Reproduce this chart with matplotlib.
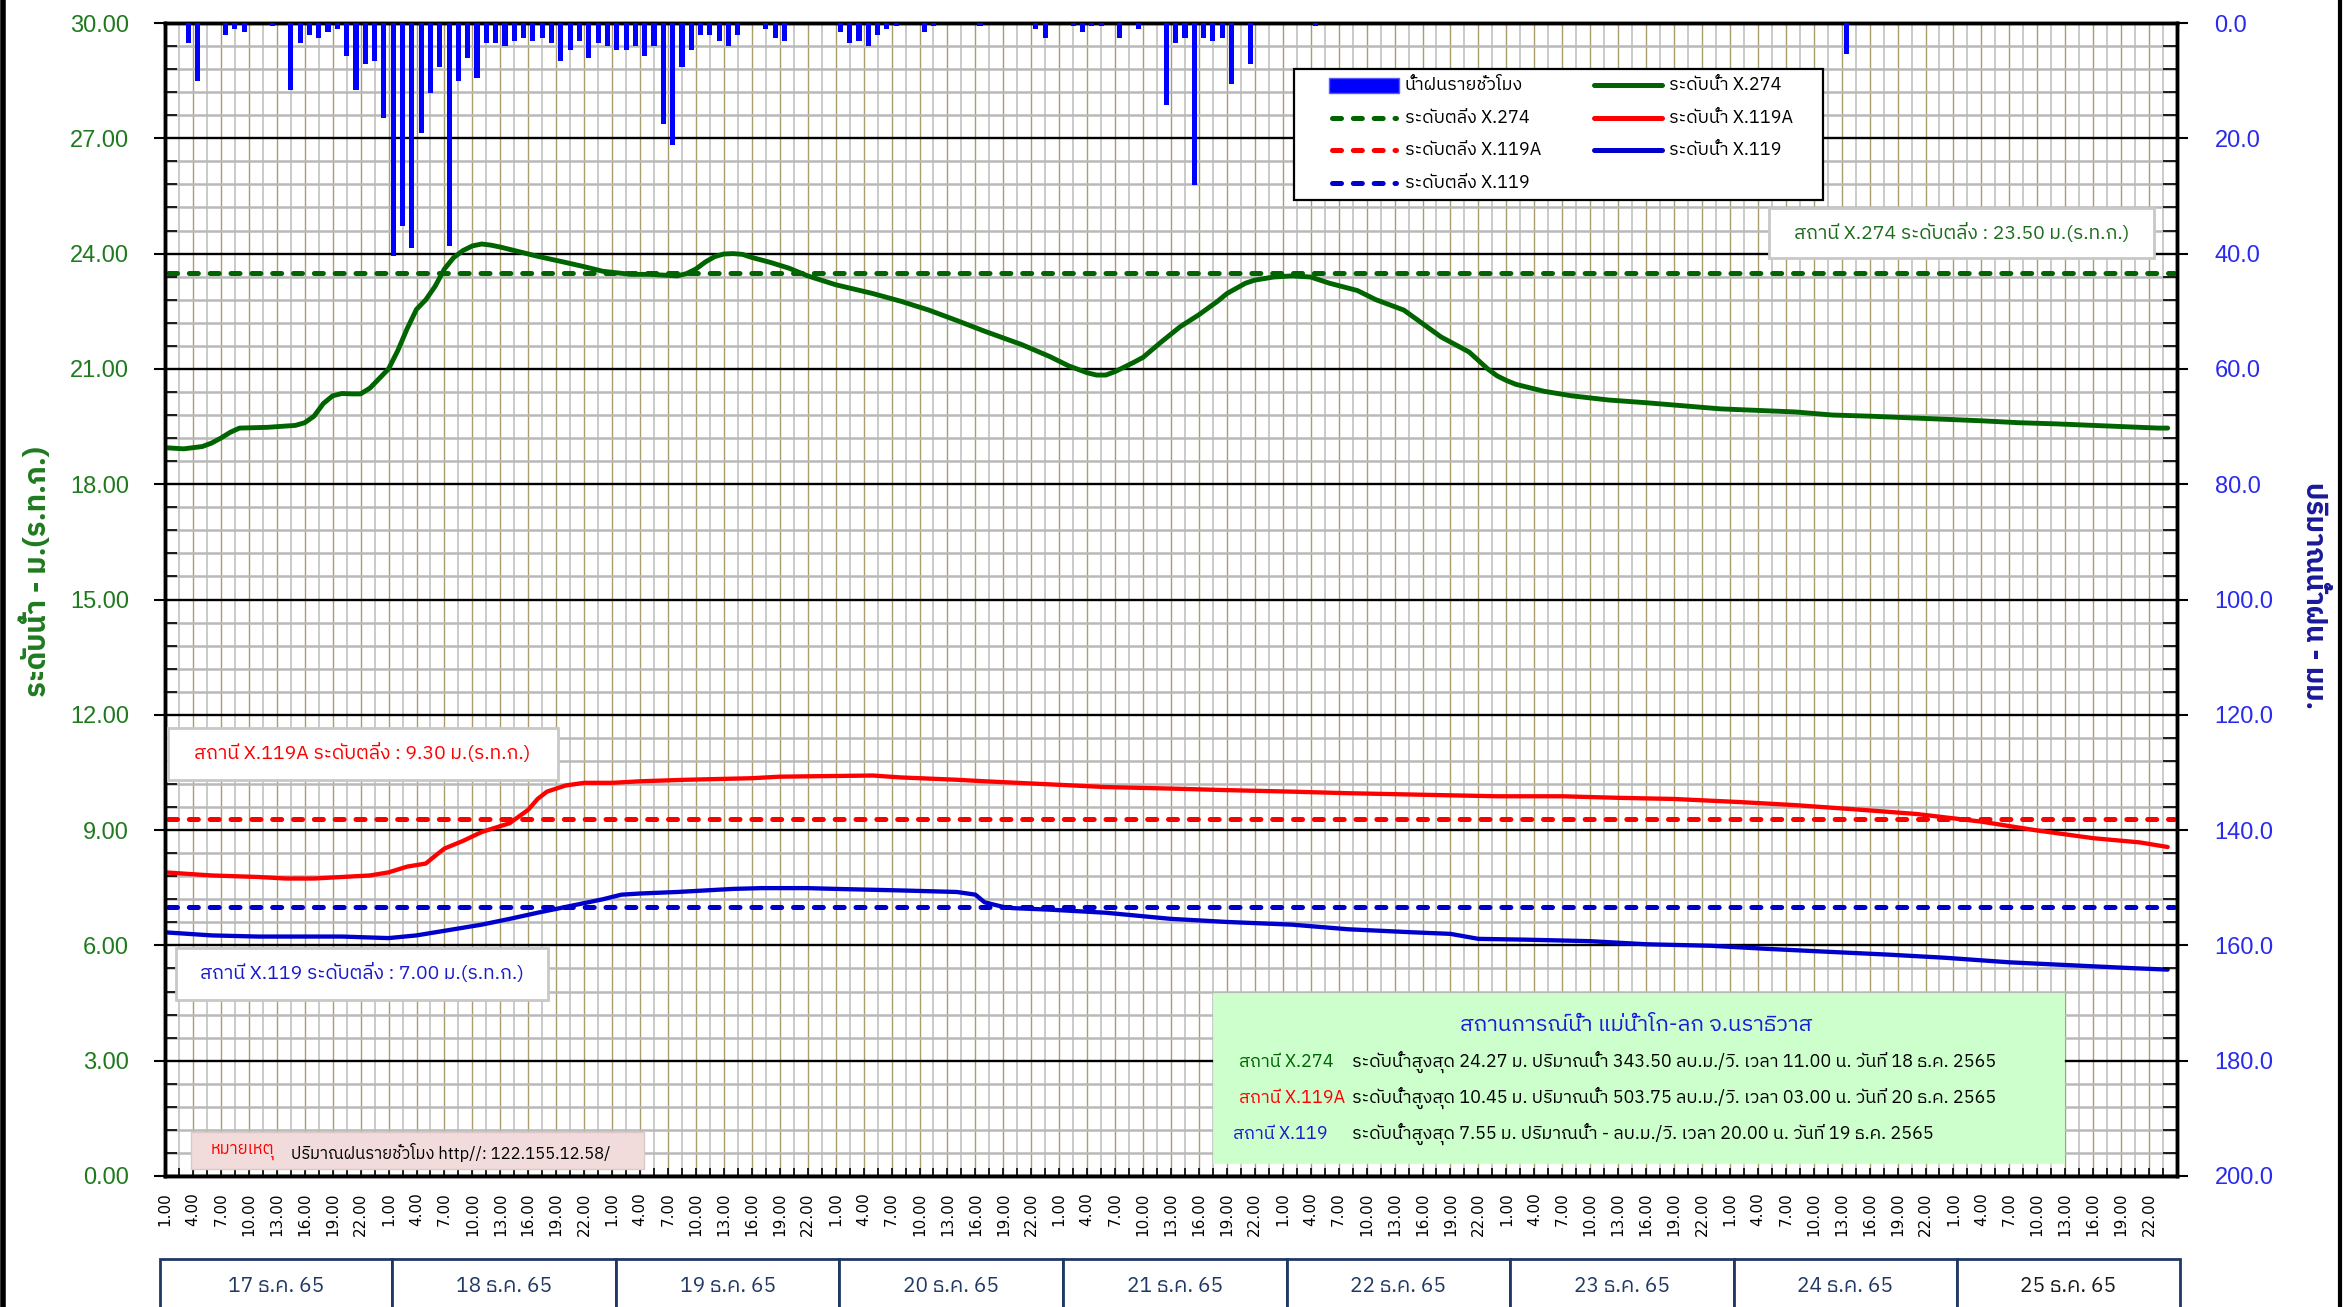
import numpy as np
import matplotlib
matplotlib.use('Agg')
import matplotlib.pyplot as plt
from matplotlib import font_manager as fm
from matplotlib.ft2font import FT2Font
from matplotlib.patches import Rectangle
from matplotlib.lines import Line2D
from matplotlib.ticker import MultipleLocator, FormatStrFormatter
import matplotlib.transforms as mtrans

# ---------------- data ----------------
hour_labels = ['1.00', '4.00', '7.00', '10.00', '13.00', '16.00', '19.00', '22.00']
day_labels = ['17 ธ.ค. 65', '18 ธ.ค. 65', '19 ธ.ค. 65', '20 ธ.ค. 65', '21 ธ.ค. 65',
              '22 ธ.ค. 65', '23 ธ.ค. 65', '24 ธ.ค. 65', '25 ธ.ค. 65']

rain_hour = [2, 3, 6, 7, 8, 11, 13, 14, 15, 16, 17, 18, 19, 20, 21, 22, 23, 24, 25, 26,
             27, 28, 29, 30, 31, 32, 33, 34, 35, 36, 37, 38, 39, 40, 41, 42, 43, 44, 45, 46,
             47, 48, 49, 50, 51, 52, 53, 54, 55, 56, 57, 58, 59, 60, 61, 64, 65, 66,
             72, 73, 74, 75, 76, 77, 78, 81, 82, 87, 93, 94, 97, 98, 99, 100, 102, 104,
             107, 108, 109, 110, 111, 112, 113, 114, 116, 123, 180]
rain_mm = [3.5, 10.0, 2.1, 1.0, 1.6, 0.6, 11.6, 3.5, 2.1, 2.6, 1.6, 1.0, 5.7, 11.6, 7.1, 6.6,
           16.5, 40.5, 35.2, 39.1, 19.1, 12.1, 7.6, 38.6, 10.0, 6.1, 9.6, 3.5, 3.5, 4.0,
           3.1, 2.6, 3.1, 2.6, 3.5, 6.6, 4.6, 3.1, 6.1, 3.5, 4.0, 4.6, 4.6, 4.0, 5.7, 4.0,
           17.6, 21.1, 7.6, 4.6, 2.1, 2.1, 3.1, 4.0, 2.1, 1.0, 2.6, 3.1,
           1.6, 3.5, 3.1, 4.0, 2.1, 1.0, 0.6, 1.6, 0.6, 0.6, 1.0, 2.6, 0.6, 1.6, 0.6, 0.6,
           2.6, 1.0, 14.2, 3.5, 2.6, 28.1, 2.6, 3.1, 2.6, 10.6, 7.1, 0.5, 5.4]

x274_hour = [0, 2, 4, 5, 6, 7, 8, 11, 14, 15, 16, 17, 18, 19, 20, 21, 22, 23, 24, 25, 26,
             27, 28, 29, 30, 31, 32, 33, 34, 35, 36, 38, 40, 43, 45, 47, 50, 52, 55, 56, 57,
             58, 59, 60, 61, 62, 63, 65, 67, 69, 72, 76, 79, 82, 85, 88, 92, 95, 97, 99, 100,
             101, 102, 104, 105, 107, 109, 111, 113, 114, 116, 117, 119, 121, 123, 125, 128,
             130, 133, 135, 137, 140, 142, 143, 144, 145, 148, 151, 155, 159, 163, 167, 171,
             175, 179, 183, 187, 191, 195, 199, 203, 207, 211, 214, 215]
x274_level = [18.95, 18.92, 18.98, 19.07, 19.2, 19.35, 19.46, 19.48, 19.53, 19.6, 19.77, 20.1,
              20.3, 20.36, 20.35, 20.35, 20.5, 20.75, 21.0, 21.48, 22.05, 22.55, 22.8, 23.15,
              23.6, 23.9, 24.08, 24.2, 24.25, 24.22, 24.17, 24.05, 23.93, 23.77, 23.66, 23.54,
              23.46, 23.46, 23.42, 23.48, 23.6, 23.78, 23.92, 23.99, 24.0, 23.98, 23.9, 23.77,
              23.62, 23.42, 23.19, 22.96, 22.76, 22.53, 22.26, 21.98, 21.63, 21.32, 21.08,
              20.9, 20.84, 20.84, 20.93, 21.17, 21.3, 21.71, 22.1, 22.41, 22.76, 22.96, 23.23,
              23.31, 23.39, 23.42, 23.39, 23.23, 23.04, 22.8, 22.53, 22.18, 21.83, 21.44, 21.0,
              20.82, 20.7, 20.6, 20.42, 20.3, 20.19, 20.12, 20.04, 19.96, 19.92, 19.88, 19.8,
              19.77, 19.73, 19.69, 19.65, 19.6, 19.57, 19.53, 19.49, 19.46, 19.46]

x119a_hour = [0, 5, 10, 13, 16, 19, 22, 24, 26, 28, 29, 30, 32, 34, 37, 39, 40, 41, 43, 45,
              48, 51, 56, 63, 66, 76, 79, 85, 88, 95, 101, 108, 114, 121, 127, 135, 143, 150,
              156, 162, 169, 175, 182, 188, 195, 201, 207, 212, 215]
x119a_level = [7.9, 7.82, 7.78, 7.74, 7.74, 7.78, 7.82, 7.9, 8.05, 8.13, 8.33, 8.52, 8.72,
               8.95, 9.18, 9.53, 9.81, 10.0, 10.16, 10.23, 10.23, 10.27, 10.31, 10.35, 10.39,
               10.42, 10.37, 10.31, 10.27, 10.19, 10.12, 10.08, 10.04, 10.0, 9.96, 9.92, 9.88,
               9.88, 9.84, 9.81, 9.73, 9.65, 9.53, 9.42, 9.22, 8.99, 8.79, 8.68, 8.56]

x119_hour = [0, 5, 10, 14, 19, 24, 27, 30, 34, 37, 40, 43, 47, 49, 51, 55, 58, 61, 64, 69,
             72, 79, 85, 87, 88, 90, 91, 95, 101, 108, 114, 121, 127, 134, 138, 141, 146, 153,
             159, 166, 172, 178, 185, 191, 198, 204, 211, 215]
x119_level = [6.34, 6.26, 6.23, 6.23, 6.23, 6.19, 6.26, 6.38, 6.54, 6.69, 6.85, 7.0, 7.2,
              7.32, 7.35, 7.39, 7.43, 7.47, 7.49, 7.49, 7.47, 7.43, 7.39, 7.32, 7.12, 7.0,
              6.97, 6.93, 6.85, 6.69, 6.61, 6.54, 6.42, 6.34, 6.3, 6.17, 6.15, 6.11, 6.03,
              5.99, 5.91, 5.84, 5.76, 5.68, 5.56, 5.49, 5.41, 5.37]

bank_274 = 23.50
bank_119a = 9.30
bank_119 = 7.00

# ---------------- fonts ----------------
def thai_fonts():
    names = []
    for f in fm.fontManager.ttflist:
        try:
            cmap = FT2Font(f.fname).get_charmap()
        except Exception:
            continue
        if 0x0E01 in cmap and 0x0E33 in cmap and f.name not in names:
            names.append(f.name)
    names.sort(key=lambda n: (0 if 'Thai' in n else 1, n))
    return names

TH = thai_fonts()
FAM = TH[:1] + ['Liberation Sans', 'DejaVu Sans']
plt.rcParams['font.family'] = FAM
plt.rcParams['lines.scale_dashes'] = False

W, H = 2346, 1307
def fx(x): return x / W
def fy(y): return 1 - y / H

GREEN = '#006400'
RED = '#ff0000'
BLUE = '#0000cc'
BARBLUE = '#0000ff'

fig = plt.figure(figsize=(W / 100, H / 100), dpi=100)
fig.patch.set_facecolor('white')

L, R, T, B = 165, 2177, 23, 1176
ax = fig.add_axes([fx(L), fy(B), (R - L) / W, (B - T) / H])
ax.set_xlim(0, 216)
ax.set_ylim(0, 30)

# grid
ax.set_axisbelow(True)
ax.set_xticks(np.arange(0, 216, 3))
ax.xaxis.set_minor_locator(MultipleLocator(1.5))
ax.yaxis.set_major_locator(MultipleLocator(3))
ax.yaxis.set_minor_locator(MultipleLocator(0.6))
ax.grid(which='major', axis='x', color='#a99d6e', lw=1.0)
ax.grid(which='minor', axis='x', color='#cacaca', lw=1.4)
ax.grid(which='major', axis='y', color='black', lw=1.7)
ax.grid(which='minor', axis='y', color='#b9b9b9', lw=1.8)

xt_labels = [hour_labels[i % 8] for i in range(72)]
ax.set_xticklabels(xt_labels, rotation=90, fontfamily='DejaVu Sans', fontsize=11)
ax.tick_params(axis='x', which='both', direction='in', length=6, width=1.2, pad=12)
ax.yaxis.set_major_formatter(FormatStrFormatter('%.2f'))
ax.tick_params(axis='y', which='major', direction='out', length=8, width=1.5,
               labelsize=17, labelcolor='#1f7a1f', pad=18)
ax.tick_params(axis='y', which='minor', direction='in', length=8.5, width=1.2)
for lbl in ax.get_yticklabels():
    lbl.set_fontfamily('Liberation Sans')

for s in ax.spines.values():
    s.set_linewidth(2.5)
    s.set_color('black')

# water levels
ax.plot(x274_hour, x274_level, color=GREEN, lw=3.5, solid_capstyle='round',
        solid_joinstyle='round', zorder=4)
ax.plot(x119a_hour, x119a_level, color=RED, lw=3.1, solid_capstyle='round',
        solid_joinstyle='round', zorder=4)
ax.plot(x119_hour, x119_level, color=BLUE, lw=3.1, solid_capstyle='round',
        solid_joinstyle='round', zorder=4)

dash = (0, (6.5, 8.5))
for lev, col in [(bank_274, GREEN), (bank_119a, RED), (bank_119, BLUE)]:
    ax.plot([0.3, 215.7], [lev, lev], color=col, lw=3.6, ls=dash,
            dash_capstyle='round', zorder=4)

# rainfall (inverted right axis)
ax2 = ax.twinx()
ax2.set_ylim(200, 0)
ax2.bar(np.array(rain_hour) + 0.5, rain_mm, width=0.55, color=BARBLUE, zorder=3)
ax2.yaxis.set_major_locator(MultipleLocator(20))
ax2.yaxis.set_minor_locator(MultipleLocator(4))
ax2.yaxis.set_major_formatter(FormatStrFormatter('%.1f'))
ax2.tick_params(axis='y', which='major', direction='out', length=8, width=1.5,
                labelsize=17, labelcolor='#2a2aee', pad=19)
ax2.tick_params(axis='y', which='minor', direction='in', length=10, width=1.2)
for lbl in ax2.get_yticklabels():
    lbl.set_fontfamily('Liberation Sans')
for s in ax2.spines.values():
    s.set_linewidth(2.5)

# axis titles
fig.text(fx(36), fy(572), 'ระดับน้ำ - ม.(ร.ท.ก.)', rotation=90, color='#1f7a1f',
         fontsize=21, fontweight='bold', ha='center', va='center')
fig.text(fx(2313), fy(596), 'ปริมาณน้ำฝน - มม.', rotation=270, color='#1a1a9a',
         fontsize=20, fontweight='bold', ha='center', va='center')

# ---------------- legend (manual) ----------------
fig.add_artist(Rectangle((fx(1294), fy(200)), (1823 - 1294) / W, (200 - 69) / H,
                         transform=fig.transFigure, facecolor='white', edgecolor='black',
                         lw=1.6, zorder=5))
fig.add_artist(Rectangle((fx(1329), fy(93)), 70 / W, 15 / H, transform=fig.transFigure,
                         facecolor=BARBLUE, edgecolor='#5a5aff', lw=1, zorder=6))
rows = [85, 118, 150, 183]
leg_col1 = [('น้ำฝนรายชั่วโมง', None), ('ระดับตลิ่ง X.274', GREEN),
            ('ระดับตลิ่ง X.119A', RED), ('ระดับตลิ่ง X.119', BLUE)]
leg_col2 = [('ระดับน้ำ X.274', GREEN), ('ระดับน้ำ X.119A', RED), ('ระดับน้ำ X.119', BLUE)]
for (txt, col), yy in zip(leg_col1, rows):
    if col is not None:
        fig.add_artist(Line2D([fx(1332), fx(1396)], [fy(yy), fy(yy)], transform=fig.transFigure,
                              color=col, lw=3.6, ls=(0, (6.5, 8.5)), dash_capstyle='round',
                              zorder=6))
    fig.text(fx(1405), fy(yy), txt, fontsize=13, va='center', ha='left', zorder=6)
for (txt, col), yy in zip(leg_col2, rows):
    fig.add_artist(Line2D([fx(1594), fx(1662)], [fy(yy), fy(yy)], transform=fig.transFigure,
                          color=col, lw=3.6, solid_capstyle='round', zorder=6))
    fig.text(fx(1669), fy(yy), txt, fontsize=13, va='center', ha='left', zorder=6)

# ---------------- annotation boxes ----------------
def box(x0, y0, x1, y1, fc, ec, lw=1.5):
    fig.add_artist(Rectangle((fx(x0), fy(y1)), (x1 - x0) / W, (y1 - y0) / H,
                             transform=fig.transFigure, facecolor=fc, edgecolor=ec,
                             lw=lw, zorder=5))

box(1769, 208, 2154, 258, 'white', '#c8c8c8', 2)
fig.text(fx(1962), fy(233), 'สถานี X.274 ระดับตลิ่ง : 23.50 ม.(ร.ท.ก.)', color='#1d6b1d',
         fontsize=14, ha='center', va='center', zorder=6)
box(168, 728, 558, 780, 'white', '#c8c8c8', 2)
fig.text(fx(362), fy(753), 'สถานี X.119A ระดับตลิ่ง : 9.30 ม.(ร.ท.ก.)', color=RED,
         fontsize=14, ha='center', va='center', zorder=6)
box(176, 948, 548, 1000, 'white', '#c8c8c8', 2)
fig.text(fx(362), fy(973), 'สถานี X.119 ระดับตลิ่ง : 7.00 ม.(ร.ท.ก.)', color='#1a1acc',
         fontsize=14, ha='center', va='center', zorder=6)

# info box
box(1213, 993, 2064, 1163, '#ccffcc', '#ccffcc', 0.5)
fig.text(fx(1636), fy(1025), 'สถานการณ์น้ำ แม่น้ำโก-ลก จ.นราธิวาส', color='#1c1cd8',
         fontsize=16, ha='center', va='center', zorder=6)
info = [('สถานี X.274', GREEN, 1239,
         'ระดับน้ำสูงสุด 24.27 ม. ปริมาณน้ำ 343.50 ลบ.ม./วิ. เวลา 11.00 น. วันที่ 18 ธ.ค. 2565', 1062),
        ('สถานี X.119A', RED, 1239,
         'ระดับน้ำสูงสุด 10.45 ม. ปริมาณน้ำ 503.75 ลบ.ม./วิ. เวลา 03.00 น. วันที่ 20 ธ.ค. 2565', 1098),
        ('สถานี X.119', '#1a1acc', 1233,
         'ระดับน้ำสูงสุด 7.55 ม. ปริมาณน้ำ - ลบ.ม./วิ. เวลา 20.00 น. วันที่ 19 ธ.ค. 2565', 1134)]
for st, col, xs, body, yy in info:
    fig.text(fx(xs), fy(yy), st, color=col, fontsize=13, ha='left', va='center', zorder=6)
    fig.text(fx(1352), fy(yy), body, color='black', fontsize=13, ha='left', va='center', zorder=6)

# note box
box(191, 1132, 644, 1169, '#f2dcdb', '#d8c8c8', 1)
fig.text(fx(211), fy(1152), 'หมายเหตุ', color=RED, fontsize=12, ha='left', va='center', zorder=6)
fig.text(fx(291), fy(1152), 'ปริมาณฝนรายชั่วโมง http//: 122.155.12.58/', color='black',
         fontsize=12, ha='left', va='center', zorder=6)

# ---------------- day boxes ----------------
blend = mtrans.blended_transform_factory(ax.transData, fig.transFigure)
edges = [-0.5] + [24 * k + 0.4 for k in range(1, 9)] + [216.3]
for i, lab in enumerate(day_labels):
    r = Rectangle((edges[i], fy(1320)), edges[i + 1] - edges[i], (1320 - 1259) / H,
                  transform=blend, facecolor='white', edgecolor='#1f3864', lw=2,
                  clip_on=False, zorder=5)
    fig.add_artist(r)
    fig.text((edges[i] + edges[i + 1]) / 2, fy(1286), lab, transform=blend,
             color='#1f3864' if i < 8 else '#1a1a1a', fontsize=15, ha='center',
             va='center', zorder=6)

# frame lines at image edges
fig.add_artist(Line2D([fx(2.5), fx(2.5)], [0, 1], transform=fig.transFigure, color='black', lw=4))
fig.add_artist(Line2D([fx(2340), fx(2340)], [0, 1], transform=fig.transFigure, color='black', lw=3))

fig.savefig('out.png', dpi=100)
